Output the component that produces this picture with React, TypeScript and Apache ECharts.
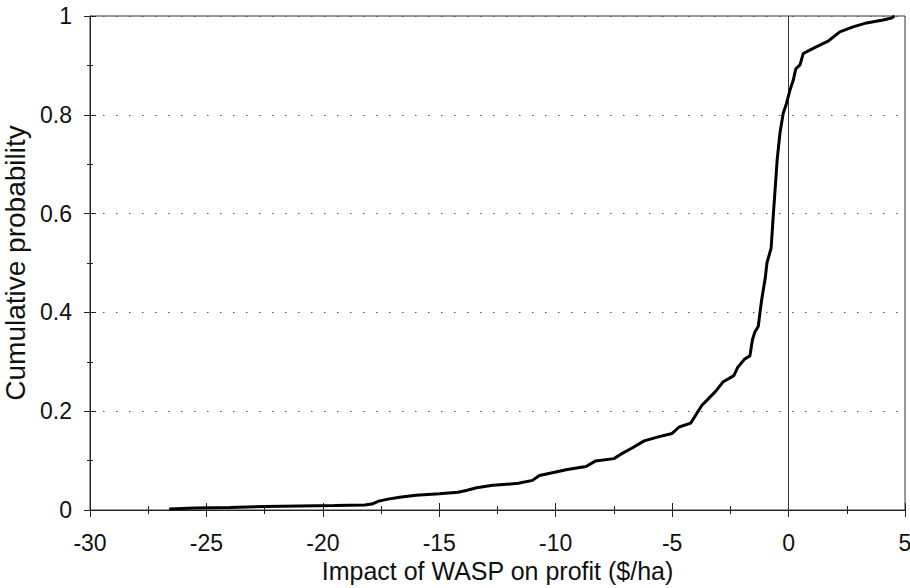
import React, { useEffect, useRef } from "react";
import * as echarts from "echarts";

const impactX = [
  -26.6, -25.5, -24, -22.5, -21, -19.5, -18.2, -17.9, -17.6, -17.2, -16.7, -16.0, -15.0, -14.2, -13.8,
  -13.4, -12.7, -11.6, -11.0, -10.7, -10.1, -9.5, -8.7, -8.3, -7.5, -7.2, -6.7, -6.2, -5.6, -5.0,
  -4.7, -4.2, -3.95, -3.72, -3.47, -3.1, -2.82, -2.35, -2.18, -1.9, -1.66, -1.55, -1.45, -1.3, -1.23,
  -1.15, -1.0, -0.93, -0.75, -0.66, -0.59, -0.49, -0.37, -0.23, -0.09, 0.06, 0.2, 0.31, 0.49, 0.63,
  0.91, 1.34, 1.7, 2.2, 2.77, 3.35, 4.06, 4.42, 4.55,
];
const cumProb = [
  0.002, 0.004, 0.005, 0.007, 0.008, 0.009, 0.01, 0.012, 0.018, 0.022, 0.026, 0.03, 0.033, 0.036, 0.04,
  0.045, 0.05, 0.054, 0.06, 0.07, 0.076, 0.082, 0.088, 0.099, 0.104, 0.113, 0.126, 0.14, 0.148, 0.155,
  0.168, 0.176, 0.195, 0.212, 0.224, 0.242, 0.259, 0.272, 0.289, 0.305, 0.312, 0.345, 0.36, 0.372, 0.399,
  0.427, 0.47, 0.5, 0.53, 0.594, 0.641, 0.709, 0.763, 0.803, 0.823, 0.85, 0.87, 0.893, 0.901, 0.924,
  0.931, 0.941, 0.949, 0.968, 0.978, 0.986, 0.992, 0.996, 1.0,
];

const FONT = "'Liberation Sans', Arial, sans-serif";

export default function App() {
  const ref = useRef<HTMLDivElement>(null);
  useEffect(() => {
    if (!ref.current) return;
    const chart = echarts.init(ref.current, null, { renderer: "svg" });
    const data = impactX.map((x, i) => [x, cumProb[i]]);
    const tickLine = { color: "#222", width: 1 };
    chart.setOption({
      animation: false,
      backgroundColor: "#fff",
      textStyle: { fontFamily: FONT },
      grid: {
        left: 90,
        right: 5,
        top: 16,
        bottom: 78,
        containLabel: false,
        outerBoundsMode: "none",
        show: true,
        borderColor: "#333",
        borderWidth: 1,
      },
      xAxis: [
        {
          type: "value",
          min: -30,
          max: 5,
          interval: 5,
          position: "bottom",
          name: "Impact of WASP on profit ($/ha)",
          nameLocation: "middle",
          nameGap: 48,
          nameTextStyle: { fontFamily: FONT, fontSize: 25, color: "#111" },
          axisLine: { show: true, onZero: false, lineStyle: { color: "#222", width: 1 } },
          axisTick: { show: true, length: 7, lineStyle: tickLine },
          minorTick: { show: true, splitNumber: 2, length: 4, lineStyle: tickLine },
          axisLabel: { fontFamily: FONT, fontSize: 23, color: "#111", margin: 21 },
          splitLine: { show: false },
        },
        {
          type: "value",
          min: -30,
          max: 5,
          interval: 5,
          position: "bottom",
          axisLine: { show: false, onZero: false },
          axisTick: { show: true, inside: true, length: 7, lineStyle: tickLine },
          minorTick: { show: true, splitNumber: 2, length: 4, lineStyle: tickLine },
          axisLabel: { show: false },
          splitLine: { show: false },
        },
      ],
      yAxis: [
        {
          type: "value",
          min: 0,
          max: 1,
          interval: 0.2,
          position: "left",
          name: "Cumulative probability",
          nameLocation: "middle",
          nameGap: 57,
          nameTextStyle: { fontFamily: FONT, fontSize: 28, color: "#111" },
          axisLine: { show: true, onZero: false, lineStyle: { color: "#222", width: 1 } },
          axisTick: { show: true, length: 6, lineStyle: tickLine },
          minorTick: { show: true, splitNumber: 2, length: 3, lineStyle: tickLine },
          axisLabel: { fontFamily: FONT, fontSize: 23, color: "#111", margin: 18 },
          splitLine: { show: true, lineStyle: { color: "#555", width: 1, type: [1.5, 11.5] } },
        },
        {
          type: "value",
          min: 0,
          max: 1,
          interval: 0.2,
          position: "left",
          axisLine: { show: false, onZero: false },
          axisTick: { show: true, inside: true, length: 6, lineStyle: tickLine },
          minorTick: { show: true, splitNumber: 2, length: 3, lineStyle: tickLine },
          axisLabel: { show: false },
          splitLine: { show: false },
        },
      ],
      series: [
        {
          type: "line",
          xAxisIndex: 0,
          yAxisIndex: 0,
          data,
          showSymbol: false,
          symbol: "none",
          lineStyle: { color: "#000", width: 3 },
          z: 5,
          markLine: {
            silent: true,
            symbol: "none",
            label: { show: false },
            lineStyle: { color: "#333", width: 1, type: "solid" },
            data: [{ xAxis: 0 }],
          },
        },
      ],
    });
    return () => chart.dispose();
  }, []);
  return <div ref={ref} style={{ width: 910, height: 588, position: "absolute", left: 0, top: 0 }} />;
}
